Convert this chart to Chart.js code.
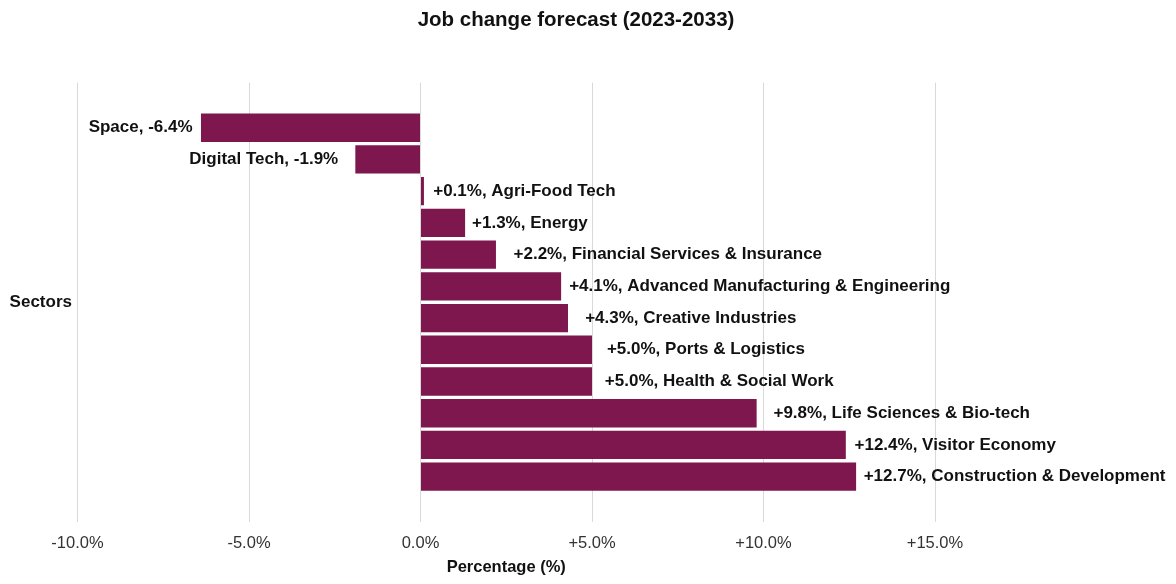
<!DOCTYPE html>
<html>
<head>
<meta charset="utf-8">
<title>Job change forecast (2023-2033)</title>
<script src="https://cdn.jsdelivr.net/npm/chart.js@4/dist/chart.umd.min.js"></script>
<style>
  html, body { margin: 0; padding: 0; background: #ffffff; }
  #wrap { width: 1176px; height: 584px; }
</style>
</head>
<body>
<div id="wrap"><canvas id="chart" width="1176" height="584"></canvas></div>
<script>
// Sectors, listed top to bottom
const sectors = [
  'Space',
  'Digital Tech',
  'Agri-Food Tech',
  'Energy',
  'Financial Services & Insurance',
  'Advanced Manufacturing & Engineering',
  'Creative Industries',
  'Ports & Logistics',
  'Health & Social Work',
  'Life Sciences & Bio-tech',
  'Visitor Economy',
  'Construction & Development'
];

// Forecast job change 2023-2033, percent
const jobChange = [-6.4, -1.9, 0.1, 1.3, 2.2, 4.1, 4.3, 5.0, 5.0, 9.8, 12.4, 12.7];

// Horizontal axis tick values
const xTicks = [-10, -5, 0, 5, 10, 15];

const FONT = "'Liberation Sans', Arial, sans-serif";
const BAR_COLOR = '#7d174d';

function fmtPct(v) {
  const s = v.toFixed(1) + '%';
  return v > 0 ? '+' + s : s;
}

// Sector name and value written beside each bar; each label is centred
// a little past the bar end, pushed out further for longer texts.
const barLabels = {
  id: 'barLabels',
  afterDatasetsDraw(chart) {
    const ctx = chart.ctx;
    const xScale = chart.scales.x;
    const meta = chart.getDatasetMeta(0);
    ctx.save();
    ctx.font = 'bold 17px ' + FONT;
    ctx.fillStyle = '#111111';
    ctx.textBaseline = 'middle';
    ctx.textAlign = 'center';
    meta.data.forEach((bar, i) => {
      const v = jobChange[i];
      const text = v < 0 ? sectors[i] + ', ' + fmtPct(v) : fmtPct(v) + ', ' + sectors[i];
      const shift = 0.2 + 0.13 * text.length;
      const cx = xScale.getPixelForValue(v < 0 ? v - shift : v + shift);
      ctx.fillText(text, cx, bar.y);
    });
    ctx.restore();
  }
};

// Horizontal category-axis caption on the left
const sideCaption = {
  id: 'sideCaption',
  afterDraw(chart) {
    const ctx = chart.ctx;
    const area = chart.chartArea;
    ctx.save();
    ctx.font = 'bold 17px ' + FONT;
    ctx.fillStyle = '#111111';
    ctx.textAlign = 'center';
    ctx.textBaseline = 'middle';
    ctx.fillText('Sectors', 40.8, (area.top + area.bottom) / 2);
    ctx.restore();
  }
};

const points = jobChange.map((v, i) => ({ x: v, y: i }));

new Chart(document.getElementById('chart'), {
  type: 'bar',
  data: {
    datasets: [{
      label: 'Job change',
      data: points,
      yAxisID: 'y',
      xAxisID: 'x',
      backgroundColor: BAR_COLOR,
      borderWidth: 0,
      categoryPercentage: 1.0,
      barPercentage: 0.893
    }]
  },
  options: {
    indexAxis: 'y',
    responsive: false,
    animation: false,
    layout: { padding: { top: 0, left: 0, right: 24, bottom: 7 } },
    plugins: {
      legend: { display: false },
      tooltip: { enabled: false },
      title: {
        display: true,
        text: 'Job change forecast (2023-2033)',
        color: '#111111',
        font: { family: FONT, size: 20.5, weight: 'bold' },
        padding: { top: 8, bottom: 50.1 }
      }
    },
    scales: {
      x: {
        type: 'linear',
        position: 'bottom',
        min: xTicks[0],
        max: xTicks[xTicks.length - 1],
        afterBuildTicks(scale) {
          scale.ticks = xTicks.map(v => ({ value: v }));
        },
        afterFit(scale) { scale.height = 55.3; },
        ticks: {
          color: '#333333',
          font: { family: FONT, size: 16.5 },
          padding: 11.4,
          maxRotation: 0,
          callback: v => fmtPct(v)
        },
        grid: { color: '#d9d9d9', lineWidth: 1, drawTicks: false },
        border: { display: false },
        title: {
          display: true,
          text: 'Percentage (%)',
          color: '#111111',
          font: { family: FONT, size: 16.5, weight: 'bold' },
          padding: { top: 0, bottom: 0 }
        }
      },
      y: {
        type: 'linear',
        position: 'left',
        reverse: true,
        offset: false,
        min: -1.42,
        max: sectors.length - 1 + 1.42,
        ticks: { display: false },
        grid: { display: false, offset: false },
        border: { display: false },
        afterFit(scale) { scale.width = 77.5; }
      },
      yRight: {
        type: 'linear',
        position: 'right',
        ticks: { display: false },
        grid: { display: false },
        border: { display: false },
        afterFit(scale) { scale.width = 1176 - 24 - 935; }
      }
    }
  },
  plugins: [barLabels, sideCaption]
});
</script>
</body>
</html>
